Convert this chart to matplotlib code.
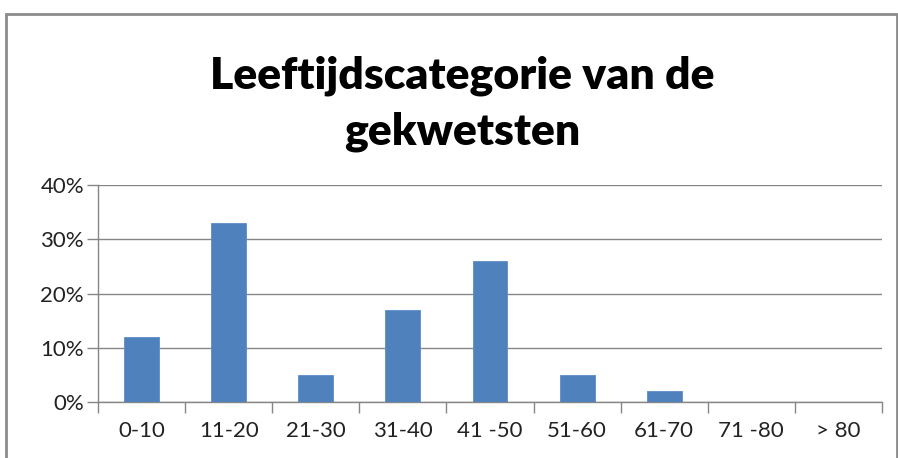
import matplotlib.pyplot as plt
from matplotlib.patches import Rectangle
from matplotlib.ticker import FixedLocator, PercentFormatter

categories = ["0-10", "11-20", "21-30", "31-40", "41 -50", "51-60", "61-70", "71 -80", "> 80"]
shares = [12, 33, 5, 17, 26, 5, 2, 0, 0]
title_lines = ["Leeftijdscategorie van de", "gekwetsten"]

W, H = 898, 458
fig = plt.figure(figsize=(W / 100, H / 100), dpi=100)
fig.patch.set_facecolor("white")

# grey frame around the chart (bottom edge is cut off in the original)
fig.add_artist(Rectangle((6 / W, -0.05), 1 - 7 / W, 1 - 14 / H + 0.05,
                         transform=fig.transFigure, fill=False,
                         edgecolor="#8c8c8c", linewidth=2))

for i, line in enumerate(title_lines):
    fig.text(462 / W, 1 - (88 + 57 * i) / H, line, ha="center", va="baseline",
             fontsize=32, fontweight="heavy", family="Lato")

ax = fig.add_axes([98 / W, 1 - 402 / H, (882 - 98) / W, (402 - 185) / H])
x = range(len(categories))
ax.bar(x, shares, width=0.4, color="#4f81bd", edgecolor="#5b8cc8", linewidth=0.6, zorder=3)

ax.set_xlim(-0.5, len(categories) - 0.5)
ax.set_ylim(0, 40)
ax.set_yticks(range(0, 41, 10))
ax.yaxis.set_major_formatter(PercentFormatter(decimals=0))
ax.grid(axis="y", color="#868686", linewidth=1, zorder=0)

ax.set_xticks(list(x))
ax.set_xticklabels(categories)
ax.xaxis.set_minor_locator(FixedLocator([i - 0.5 for i in range(len(categories) + 1)]))
ax.tick_params(axis="x", which="major", length=0, pad=14, labelsize=16)
ax.tick_params(axis="x", which="minor", length=8, color="#868686", width=1)
ax.tick_params(axis="y", length=8, color="#868686", width=1, pad=2, labelsize=16)
for lbl in ax.get_xticklabels() + ax.get_yticklabels():
    lbl.set_family("Lato")
    lbl.set_color("#222222")

for side in ["top", "right"]:
    ax.spines[side].set_visible(False)
for side in ["left", "bottom"]:
    ax.spines[side].set_color("#868686")
    ax.spines[side].set_linewidth(1)

fig.savefig("out.png", dpi=100)
